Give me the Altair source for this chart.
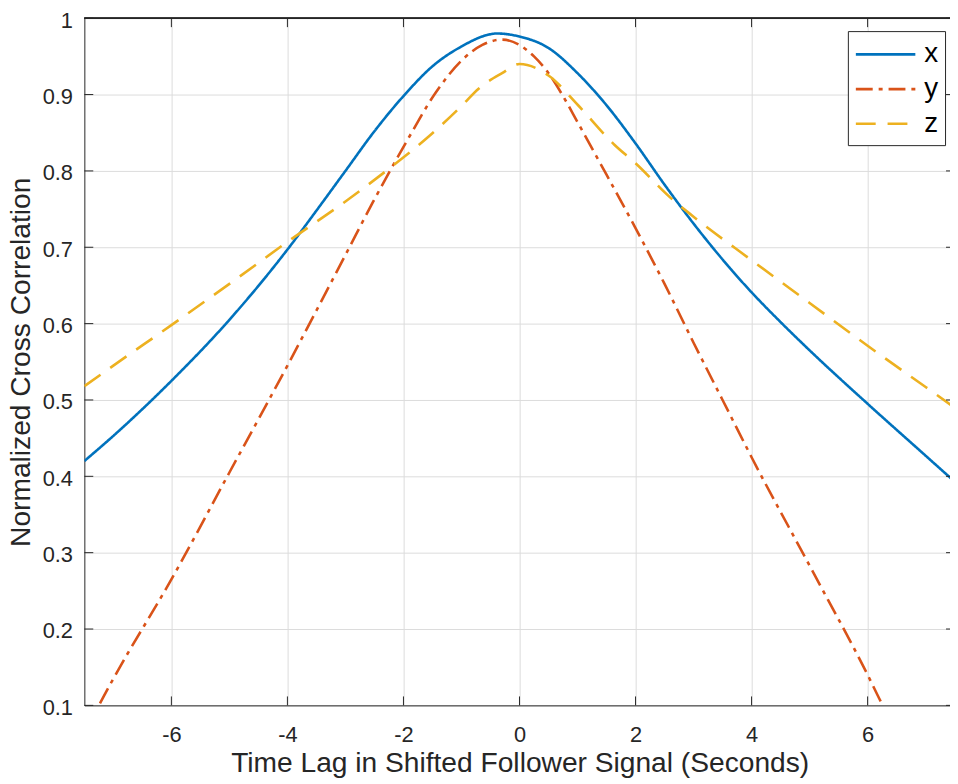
import altair as alt
import pandas as pd

# ---- data ----
lag_x = [-7.5, -7, -6, -5, -4, -3.5, -3, -2.5, -2, -1.5, -1, -0.5, -0.4, 0, 0.5,
         1, 1.5, 2, 2.5, 3, 3.5, 4, 4.5, 5, 6, 7, 7.5]
corr_x = [0.42, 0.453, 0.525, 0.605, 0.697, 0.748, 0.80, 0.852, 0.898, 0.937, 0.963, 0.979,
          0.98, 0.976, 0.961, 0.928, 0.886, 0.836, 0.782, 0.731, 0.684, 0.641, 0.602, 0.565,
          0.495, 0.427, 0.393]

lag_y = [-7.5, -7.25, -7, -6, -5, -4, -3, -2.52, -1.95, -1.44, -0.98, -0.64, -0.3, 0, 0.25,
         0.5, 0.75, 1, 1.5, 2, 2.5, 3, 3.5, 4, 5, 6, 6.26, 6.5]
corr_y = [0.065, 0.10, 0.135, 0.265, 0.405, 0.545, 0.69, 0.76, 0.838, 0.903, 0.946, 0.965,
          0.972, 0.965, 0.95, 0.928, 0.898, 0.864, 0.795, 0.725, 0.652, 0.575, 0.50, 0.425,
          0.283, 0.14, 0.10, 0.066]

lag_z = [-7.5, -7, -6, -5, -4, -3, -2.18, -1.55, -1, -0.7, -0.3, 0, 0.5, 1.01, 1.64, 2,
         2.6, 3, 4, 5, 6, 7, 7.5]
corr_z = [0.518, 0.545, 0.598, 0.652, 0.707, 0.76, 0.807, 0.846, 0.885, 0.908, 0.928, 0.94,
          0.925, 0.886, 0.834, 0.81, 0.765, 0.74, 0.683, 0.627, 0.571, 0.517, 0.49]

series_names = ["x", "y", "z"]
series_colors = ["#0072BD", "#D95319", "#EDB120"]
series_dash = [[1, 0], [17, 6, 4, 6], [20, 12]]

x_ticks = [-6, -4, -2, 0, 2, 4, 6]
y_ticks = [0.1, 0.2, 0.3, 0.4, 0.5, 0.6, 0.7, 0.8, 0.9, 1.0]
x_domain = [-7.5, 7.42]
y_domain = [0.1, 1.0]

x_title = "Time Lag in Shifted Follower Signal (Seconds)"
y_title = "Normalized Cross Correlation"

# ---- build tables ----
rows = []
for name, xs, ys in zip(series_names, [lag_x, lag_y, lag_z], [corr_x, corr_y, corr_z]):
    for a, b in zip(xs, ys):
        rows.append({"lag": a, "corr": b, "series": name})
df = pd.DataFrame(rows)
xt = pd.DataFrame({"t": x_ticks})
yt = pd.DataFrame({"t": y_ticks})

W, H = 873, 693
AX = "#262626"
FONT = "Liberation Sans"

xscale = alt.Scale(domain=x_domain, nice=False, zero=False)
yscale = alt.Scale(domain=y_domain, nice=False, zero=False)

lines = alt.Chart(df).mark_line(strokeWidth=2.6, clip=True, interpolate="monotone").encode(
    x=alt.X("lag:Q", scale=xscale,
            axis=alt.Axis(title=x_title, values=x_ticks, labelExpr="'' + datum.value",
                          grid=True, gridColor="#dcdcdc", tickSize=0, domainColor=AX,
                          labelPadding=19, titlePadding=5, titleX=439)),
    y=alt.Y("corr:Q", scale=yscale,
            axis=alt.Axis(title=y_title, values=y_ticks, labelExpr="'' + datum.value",
                          grid=True, gridColor="#dcdcdc", tickSize=0, domainColor=AX,
                          labelPadding=12, titlePadding=7, labelOffset=2)),
    color=alt.Color("series:N", scale=alt.Scale(domain=series_names, range=series_colors),
                    legend=alt.Legend(title=None)),
    strokeDash=alt.StrokeDash("series:N", scale=alt.Scale(domain=series_names, range=series_dash),
                              legend=alt.Legend(title=None)),
)

tick_style = dict(color=AX, strokeWidth=1)
bottom_ticks = alt.Chart(xt).mark_rule(**tick_style).encode(
    x=alt.X("t:Q", scale=xscale), y=alt.value(H), y2=alt.value(H - 9))
top_ticks = alt.Chart(xt).mark_rule(**tick_style).encode(
    x=alt.X("t:Q", scale=xscale), y=alt.value(0), y2=alt.value(9))
left_ticks = alt.Chart(yt).mark_rule(**tick_style).encode(
    y=alt.Y("t:Q", scale=yscale), x=alt.value(0), x2=alt.value(9))
right_ticks = alt.Chart(yt).mark_rule(**tick_style).encode(
    y=alt.Y("t:Q", scale=yscale), x=alt.value(W - 4), x2=alt.value(W))
top_border = alt.Chart(xt).mark_rule(**tick_style).encode(
    x=alt.value(0), x2=alt.value(W), y=alt.value(0))

chart = alt.layer(lines, bottom_ticks, top_ticks, left_ticks, right_ticks, top_border).properties(
    width=W, height=H,
    autosize=alt.AutoSizeParams(type="none"),
    padding={"left": 77, "top": 7, "right": 0, "bottom": 76},
).configure_view(stroke=None).configure_axis(
    labelFont=FONT, titleFont=FONT, labelFontSize=22, titleFontSize=28.4,
    labelColor=AX, titleColor=AX, titleFontWeight="normal", domainWidth=1,
).configure_legend(
    orient="none", legendX=770, legendY=13, fillColor="white", strokeColor=AX,
    padding=7, symbolType="M-1.03,0H2.97", symbolSize=900, symbolStrokeWidth=2.6,
    labelFont=FONT, labelFontSize=28, labelColor="black", labelOffset=37, rowPadding=4,
)

chart.save("out.html", embed_options={"renderer": "svg", "actions": False})
